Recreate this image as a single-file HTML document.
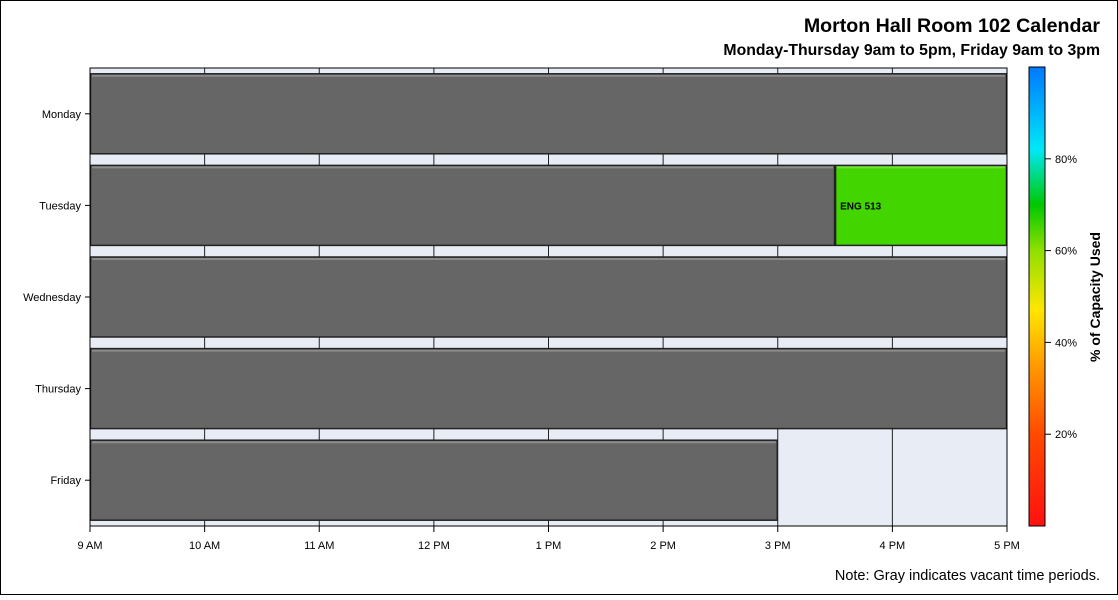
<!DOCTYPE html>
<html><head><meta charset="utf-8"><style>
body{margin:0;background:#fff;font-family:"Liberation Sans",sans-serif}
svg text{font-family:"Liberation Sans",sans-serif}
</style></head><body>
<svg width="1118" height="595">
<defs>
<linearGradient id="cg" x1="0" y1="1" x2="0" y2="0">
<stop offset="0" stop-color="#ff1010"/><stop offset="0.2" stop-color="#ff4a00"/><stop offset="0.35" stop-color="#ff9a00"/><stop offset="0.47" stop-color="#ffe600"/><stop offset="0.6" stop-color="#90e000"/><stop offset="0.7" stop-color="#00c800"/><stop offset="0.82" stop-color="#00e8f8"/><stop offset="1" stop-color="#0078ff"/>
</linearGradient>
</defs>
<rect x="0.5" y="0.5" width="1117" height="594" fill="#fff" stroke="#000"/>
<text x="1100" y="32" text-anchor="end" font-size="19.6" font-weight="bold">Morton Hall Room 102 Calendar</text>
<text x="1100" y="55" text-anchor="end" font-size="15.8" font-weight="bold">Monday-Thursday 9am to 5pm, Friday 9am to 3pm</text>
<text x="1100" y="580" text-anchor="end" font-size="14.5">Note: Gray indicates vacant time periods.</text>
<g id="plot"></g>
<rect x="1029" y="67" width="16" height="459" fill="url(#cg)" stroke="#000"/>
<g id="cbticks"></g>
<text transform="translate(1100,297) rotate(-90)" text-anchor="middle" font-size="14" font-weight="bold">% of Capacity Used</text>
</svg>
<script>
const days=["Monday","Tuesday","Wednesday","Thursday","Friday"];
const eventDay=[0,1,1,2,3,4];
const eventStart=[9,9,15.5,9,9,9];
const eventEnd=[17,15.5,17,17,17,15];
const eventCap=[null,null,62,null,null,null];
const eventLabel=["","","ENG 513","","",""];
const hourTicks=[9,10,11,12,13,14,15,16,17];
const hourLabels=["9 AM","10 AM","11 AM","12 PM","1 PM","2 PM","3 PM","4 PM","5 PM"];
const capTicks=[20,40,60,80];
const NS="http://www.w3.org/2000/svg";
const L=90,R=1007,T=68,B=526;
const x=h=>L+(h-9)/(17-9)*(R-L);
const rowH=(B-T)/days.length;
const yc=i=>T+rowH*(i+0.5);
const cy=v=>526-v/100*459;
function mk(tag,a,p){const e=document.createElementNS(NS,tag);for(const k in a)e.setAttribute(k,a[k]);(p||document.getElementById('plot')).appendChild(e);return e;}
function capColor(v){const st=[[0,[255,16,16]],[20,[255,74,0]],[35,[255,154,0]],[47,[255,230,0]],[60,[84,216,0]],[70,[0,200,0]],[82,[0,232,248]],[100,[0,120,255]]];for(let i=1;i<st.length;i++){if(v<=st[i][0]){const t=(v-st[i-1][0])/(st[i][0]-st[i-1][0]);const c=st[i-1][1].map((a,j)=>Math.round(a+(st[i][1][j]-a)*t));return`rgb(${c})`;}}return"rgb(0,120,255)";}
let bg=mk('rect',{x:L,y:T,width:R-L,height:B-T,fill:'#e8ecf5'});


hourTicks.forEach((h,i)=>{
let g=mk('line',{x1:x(h),x2:x(h),y1:T,y2:B,stroke:'#222','stroke-width':1});


let tk=mk('line',{x1:x(h),x2:x(h),y1:B,y2:B+6,stroke:'#000'});


let t=mk('text',{x:x(h),y:B+23,'text-anchor':'middle','font-size':11});
t.textContent=hourLabels[i];


});
days.forEach((d,i)=>{
let tk=mk('line',{x1:L-5,x2:L,y1:yc(i),y2:yc(i),stroke:'#000'});


let t=mk('text',{x:L-9,y:yc(i)+4,'text-anchor':'end','font-size':11});
t.textContent=d;


});
eventDay.forEach((d,i)=>{
const c=yc(d),h=80;
const fill=eventCap[i]==null?'#666':capColor(eventCap[i]);
let r=mk('rect',{x:x(eventStart[i])+0.5,y:c-h/2,width:x(eventEnd[i])-x(eventStart[i])-1,height:h,fill:fill,stroke:'#222','stroke-width':1.5});


mk('line',{x1:x(eventStart[i])+2,x2:x(eventEnd[i])-2,y1:c-h/2+2,y2:c-h/2+2,stroke:'rgba(255,255,255,0.25)','stroke-width':2});
if(eventLabel[i]){let t=mk('text',{x:x(eventStart[i])+5,y:c+4,'font-size':10,'font-weight':'bold'});t.textContent=eventLabel[i];

}
});
let ax=mk('rect',{x:L,y:T,width:R-L,height:B-T,fill:'none',stroke:'#000'});


const cb=document.getElementById('cbticks');
capTicks.forEach(v=>{
let tk=mk('line',{x1:1045,x2:1051,y1:cy(v),y2:cy(v),stroke:'#000'},cb);


let t=mk('text',{x:1055,y:cy(v)+4,'font-size':11},cb);
t.textContent=v+'%';


});
</script>
</body></html>
